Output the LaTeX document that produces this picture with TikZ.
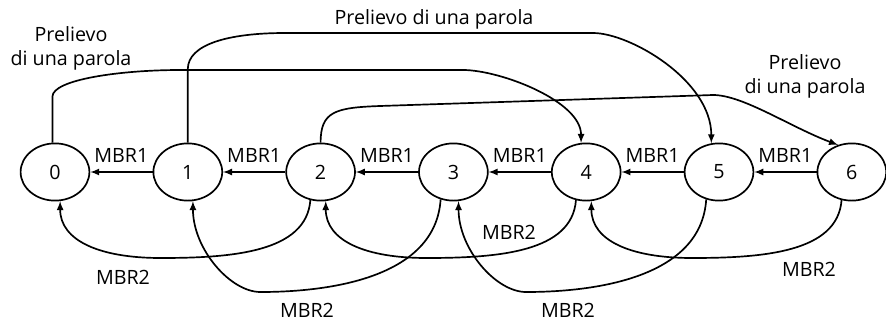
\documentclass[tikz,border=0pt]{standalone}
\usepackage{fontspec}
\setmainfont{Open Sans}
\usetikzlibrary{shapes.geometric,positioning}

\begin{document}
\begin{tikzpicture}[node distance=3.32cm, auto, >=latex, line width=1.2pt, font=\fontsize{14}{17}\selectfont]
    \tikzstyle{state} = [draw, ellipse, minimum width=1.72cm, minimum height=1.43cm, inner sep=0pt]
    \tikzstyle{lbl} = [inner sep=1pt, align=center]

    \useasboundingbox (0,0) rectangle (22.15,8.075);

    \node [state] (s0) at (1.375,3.775) {0};
    \node [state, right of=s0] (s1) {1};
    \node [state, right of=s1] (s2) {2};
    \node [state, right of=s2] (s3) {3};
    \node [state, right of=s3] (s4) {4};
    \node [state, right of=s4] (s5) {5};
    \node [state, right of=s5] (s6) {6};

    % MBR1
    \draw [->] (s1) -- node[above=1mm] (m10) {MBR1} (s0);
    \draw [->] (s2) -- node[above=1mm] (m21) {MBR1} (s1);
    \draw [->] (s3) -- node[above=1mm] (m32) {MBR1} (s2);
    \draw [->] (s4) -- node[above=1mm] (m43) {MBR1} (s3);
    \draw [->] (s5) -- node[above=1mm] (m54) {MBR1} (s4);
    \draw [->] (s6) -- node[above=1mm] (m65) {MBR1} (s5);

    % prelievo di una parola
    \draw [->] (s0.95) -- ++(0,1.15) .. controls +(0,0.425) and +(-1.5,0) .. (4.5,6.325)
        -- (11.575,6.325) .. controls +(0.925,0) and +(0,1.05) .. (s4.100);
    \draw [->] (s1.north) -- ++(0,1.835) .. controls +(0,0.625) and +(-1.4,0) .. (7.125,7.25)
        -- (14.825,7.25) .. controls +(0.925,0) and +(0,1.575) .. (s5.105);
    \draw [->] (s2.north) .. controls +(0,0.775) and +(-1.125,-0.04) .. (9.5,5.425)
        -- (17.825,5.7) .. controls +(0.75,0) and +(-1.2,0.45) .. (s6.117);

    \node [lbl] (p04) at (1.775,6.875) {Prelievo\\di una parola};
    \node [lbl] (p15) at (10.85,7.59) {Prelievo di una parola};
    \node [lbl] (p26) at (20.125,6.175) {Prelievo\\di una parola};

    % MBR2
    \draw [->] (s2.250) .. controls +(-0.1,-1.3) and +(1.8,0) .. (4.015,1.625)
        .. controls +(-1.5,0) and +(0,-1.0) .. (s0.280);
    \draw [->] (s3.245) .. controls +(-0.125,-1.95) and +(1.75,0) .. (6.51,0.775)
        .. controls +(-0.75,0) and +(0,-1.2) .. (s1.280);
    \draw [->] (s4.250) .. controls +(-0.1,-1.3) and +(1.8,0) .. (10.655,1.625)
        .. controls +(-1.5,0) and +(0,-1.0) .. (s2.280);
    \draw [->] (s5.245) .. controls +(-0.125,-1.95) and +(1.75,0) .. (13.15,0.775)
        .. controls +(-0.75,0) and +(0,-1.2) .. (s3.280);
    \draw [->] (s6.250) .. controls +(-0.1,-1.3) and +(1.8,0) .. (17.295,1.625)
        .. controls +(-1.5,0) and +(0,-1.0) .. (s4.280);

    \node [lbl] (q20) at (3.075,1.15) {MBR2};
    \node [lbl] (q31) at (7.675,0.325) {MBR2};
    \node [lbl] (q42) at (12.725,2.275) {MBR2};
    \node [lbl] (q53) at (14.2,0.325) {MBR2};
    \node [lbl] (q64) at (20.225,1.35) {MBR2};
\end{tikzpicture}
\end{document}
